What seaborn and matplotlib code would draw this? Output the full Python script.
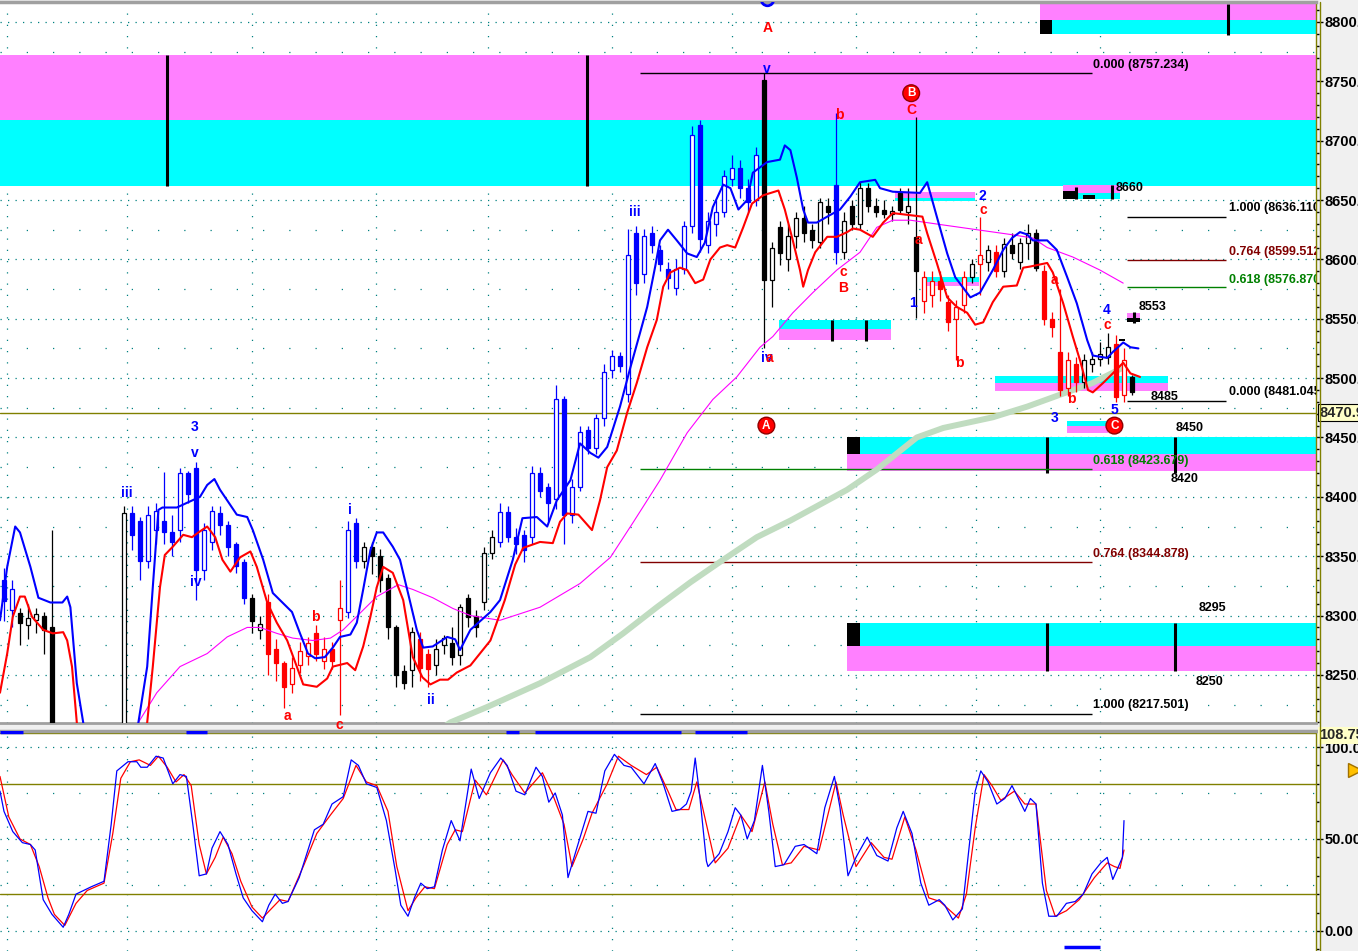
import matplotlib
matplotlib.use("Agg")
import matplotlib.pyplot as plt
import matplotlib.transforms as mtransforms
from matplotlib.lines import Line2D
from matplotlib.patches import Rectangle
from matplotlib.ticker import MultipleLocator
import numpy as np
import pandas as pd
import seaborn as sns

sns.set_theme(style="white")
plt.rcParams['font.family'] = ['Liberation Sans', 'DejaVu Sans']

# ---------------- price bars (one per bar index) ----------------
opens = [8330, 8305, 8302, 8292, 8296, 8300, 8290, 8150, 8160, 8150,
         8170, 8165, 8180, 8175, 8185, 8190, 8386, 8380, 8346, 8372,
         8380, 8370, 8372, 8420, 8424, 8338, 8362, 8386, 8376, 8360,
         8345, 8315, 8288, 8311, 8272, 8260, 8242, 8258, 8266, 8285,
         8262, 8272, 8296, 8303, 8378, 8346, 8358, 8350, 8332, 8290,
         8253, 8254, 8280, 8268, 8258, 8275, 8277, 8267, 8315, 8300,
         8311, 8353, 8362, 8387, 8366, 8368, 8366, 8420, 8408, 8398,
         8482, 8385, 8408, 8456, 8441, 8466, 8507, 8519, 8487, 8622,
         8588, 8622, 8608, 8592, 8576, 8592, 8628, 8713, 8612, 8630,
         8640, 8668, 8677, 8660, 8650, 8751, 8583, 8627, 8600, 8620,
         8635, 8625, 8615, 8645, 8663, 8606, 8645, 8630, 8660, 8645,
         8642, 8638, 8656, 8640, 8619, 8565, 8570, 8582, 8564, 8550,
         8562, 8585, 8596, 8598, 8606, 8590, 8612, 8598, 8614, 8622,
         8590, 8550, 8522, 8492, 8512, 8497, 8512, 8516, 8518, 8529,
         8486, 8501]
highs = [8340, 8330, 8306, 8310, 8306, 8303, 8372, 8170, 8175, 8180,
         8185, 8190, 8190, 8195, 8200, 8392, 8392, 8383, 8392, 8395,
         8421, 8385, 8424, 8422, 8429, 8378, 8392, 8392, 8380, 8362,
         8348, 8318, 8300, 8318, 8280, 8262, 8265, 8278, 8282, 8292,
         8282, 8278, 8330, 8380, 8382, 8362, 8362, 8356, 8335, 8292,
         8258, 8290, 8286, 8272, 8280, 8284, 8290, 8310, 8318, 8305,
         8358, 8372, 8395, 8392, 8374, 8372, 8426, 8425, 8412, 8494,
         8485, 8415, 8460, 8460, 8470, 8512, 8524, 8522, 8626, 8628,
         8626, 8628, 8612, 8598, 8600, 8632, 8712, 8717, 8640, 8650,
         8675, 8688, 8684, 8668, 8695, 8757, 8615, 8632, 8630, 8640,
         8645, 8630, 8652, 8652, 8723, 8640, 8650, 8665, 8664, 8652,
         8650, 8645, 8660, 8660, 8720, 8590, 8590, 8590, 8570, 8566,
         8590, 8600, 8636, 8612, 8612, 8618, 8622, 8618, 8630, 8626,
         8595, 8556, 8575, 8522, 8518, 8520, 8522, 8530, 8538, 8536,
         8525, 8503]
lows = [8295, 8290, 8275, 8280, 8285, 8268, 8140, 8130, 8140, 8140,
        8150, 8155, 8160, 8165, 8170, 8180, 8355, 8330, 8340, 8360,
        8360, 8350, 8362, 8395, 8313, 8330, 8355, 8368, 8350, 8336,
        8310, 8285, 8280, 8250, 8245, 8222, 8235, 8252, 8258, 8262,
        8255, 8255, 8216, 8298, 8340, 8340, 8335, 8320, 8280, 8240,
        8238, 8240, 8245, 8240, 8250, 8268, 8258, 8258, 8290, 8282,
        8305, 8348, 8358, 8362, 8352, 8345, 8360, 8400, 8380, 8390,
        8360, 8378, 8405, 8436, 8436, 8460, 8500, 8505, 8480, 8570,
        8580, 8605, 8590, 8575, 8570, 8588, 8622, 8606, 8605, 8620,
        8636, 8662, 8652, 8640, 8645, 8525, 8560, 8595, 8590, 8610,
        8615, 8610, 8610, 8630, 8596, 8600, 8625, 8625, 8640, 8636,
        8635, 8632, 8638, 8630, 8551, 8555, 8560, 8565, 8540, 8515,
        8555, 8580, 8570, 8590, 8585, 8585, 8600, 8592, 8600, 8590,
        8545, 8535, 8485, 8485, 8488, 8492, 8505, 8510, 8512, 8480,
        8480, 8486]
closes = [8312, 8322, 8294, 8298, 8301, 8288, 8150, 8160, 8150, 8170,
          8165, 8180, 8175, 8185, 8190, 8386, 8368, 8346, 8385, 8388,
          8370, 8362, 8420, 8402, 8338, 8372, 8388, 8376, 8358, 8342,
          8315, 8295, 8293, 8268, 8260, 8240, 8256, 8270, 8277, 8268,
          8272, 8262, 8306, 8372, 8346, 8358, 8350, 8330, 8290, 8250,
          8243, 8286, 8256, 8255, 8272, 8281, 8265, 8307, 8299, 8290,
          8353, 8366, 8387, 8366, 8360, 8355, 8420, 8405, 8395, 8482,
          8385, 8408, 8455, 8441, 8466, 8505, 8519, 8510, 8604, 8580,
          8620, 8612, 8596, 8584, 8592, 8628, 8705, 8617, 8632, 8640,
          8670, 8677, 8660, 8648, 8688, 8583, 8610, 8605, 8620, 8635,
          8622, 8616, 8648, 8640, 8606, 8632, 8630, 8660, 8645, 8640,
          8638, 8641, 8642, 8645, 8590, 8585, 8582, 8575, 8547, 8560,
          8585, 8596, 8604, 8608, 8590, 8613, 8605, 8614, 8622, 8593,
          8550, 8543, 8490, 8515, 8497, 8515, 8516, 8520, 8526, 8484,
          8515, 8488]
bar_colors = ("bb" "kkkkkkkkkkkkkk" "bbbbbbbbbbbbbbb" "kk" "rrrrrrrrrr" "bb"
              "kkkkkkk" "rr" "kkkkkkkk" "bbbbbbbbbbbbbbbbbbbbbbbbbbbbbbbbb"
              "kkkkkkkkk" "b" "kkkkkkkkkk" "rrrrrr" "k" "r" "k" "r" "kkkkk"
              "rrrrr" "kkkk" "rr" "k")

# ---------------- indicator lines (bar index, value) ----------------
upper_x = [-0.5, 0.4, 1.4, 2, 3.3, 4.3, 5.8, 7.3, 7.9, 8.3, 9.1, 9.9, 11, 15.5, 16.8, 17.9, 18.6, 19.3, 19.8, 21.6,
           24.5, 25.4, 26.3, 27, 27.9, 29.1, 30.4, 31.1, 32.4, 33.6, 34.8, 36, 37, 38, 38.9, 40.1, 41.1, 42, 43.3, 44.1,
           44.9, 45.8, 46.6, 47.4, 48.6, 49.5, 50.5, 51.6, 52.4, 53.6, 55.4, 56.4, 57, 58.3, 60.8, 62, 63.6, 64.8, 66.6, 67.9,
           69.1, 70.8, 72, 73.3, 74.3, 75.4, 77, 78.3, 79.5, 80.4, 81.4, 82, 83, 84.1, 85.4, 86.6, 87.6, 88.6, 89.9, 90.8,
           91.8, 92.9, 93.6, 95.4, 97, 97.6, 98.3, 99.1, 99.9, 100.5, 101.6, 102.9, 104.5, 105.8, 107, 108.9, 109.5, 111.1, 114.5, 115.4,
           116.6, 117.9, 118.9, 120.8, 122, 123.6, 124.9, 126, 127, 127.9, 128.6, 130.4, 131.6, 132.9, 134.1, 135.4, 136.1, 137.9, 138.6, 139.9,
           140.8, 141.8]
upper_y = [8296, 8341, 8375, 8370, 8341, 8315, 8311, 8311, 8316, 8307, 8243, 8210, 8120, 8120, 8210, 8257, 8324, 8389, 8391, 8391,
           8400, 8410, 8415, 8406, 8397, 8385, 8383, 8372, 8347, 8319, 8311, 8303, 8285, 8268, 8264, 8265, 8273, 8282, 8284, 8294,
           8322, 8355, 8370, 8370, 8358, 8347, 8319, 8288, 8273, 8274, 8282, 8280, 8271, 8288, 8303, 8313, 8347, 8382, 8383, 8375,
           8397, 8414, 8445, 8437, 8433, 8442, 8476, 8509, 8538, 8560, 8594, 8616, 8625, 8616, 8605, 8602, 8614, 8644, 8663, 8660,
           8642, 8650, 8673, 8682, 8684, 8696, 8692, 8669, 8642, 8631, 8631, 8636, 8642, 8653, 8665, 8667, 8660, 8657, 8656, 8665,
           8636, 8605, 8585, 8568, 8572, 8591, 8608, 8618, 8623, 8621, 8616, 8616, 8608, 8585, 8563, 8532, 8519, 8517, 8522, 8530,
           8526, 8525]
lower_x = [-0.5, 0.4, 1.1, 2, 2.6, 3.5, 4.9, 6.1, 7.4, 7.9, 8.5, 9.1, 10.5, 16.5, 17.9, 18.6, 19.5, 20.1, 21.1, 22.4,
           23.5, 24.3, 25.4, 26.4, 27.3, 28.3, 29.5, 30.8, 31.6, 32.9, 34.1, 35.4, 36.6, 37.4, 39.1, 40.4, 41.1, 42.9, 43.9, 44.9,
           45.8, 46.6, 47.4, 48.6, 49.9, 51.1, 52.3, 53.3, 54.5, 55.5, 56.6, 58.3, 60.8, 62.6, 63.9, 64.9, 67, 68.6, 69.5, 70.4,
           71.8, 73.5, 74.5, 75.4, 76.6, 77.9, 79.1, 80.4, 81.6, 82.4, 83.3, 84.5, 85.4, 86.4, 87.4, 88.3, 89.5, 90.4, 91.4, 92.4,
           93.5, 94.9, 96.8, 97.6, 98.6, 99.5, 99.9, 100.5, 101.4, 102.9, 104.1, 105.4, 106.1, 107, 108.6, 109.9, 111.1, 114.8, 115.4, 116.6,
           117.9, 119.1, 120.4, 121.4, 122.4, 123.6, 124.9, 126.6, 127.4, 128.3, 130.4, 131.1, 132.4, 133.6, 134.5, 135.5, 136.1, 137.4, 138.6, 139.9,
           140.8, 142]
lower_y = [8235, 8268, 8299, 8316, 8316, 8299, 8288, 8285, 8286, 8279, 8257, 8210, 8120, 8120, 8210, 8257, 8324, 8351, 8358, 8368,
           8366, 8370, 8375, 8366, 8347, 8337, 8349, 8354, 8341, 8311, 8294, 8279, 8257, 8242, 8240, 8247, 8257, 8260, 8254, 8274,
           8299, 8324, 8341, 8336, 8313, 8265, 8248, 8242, 8246, 8246, 8252, 8258, 8279, 8313, 8343, 8357, 8362, 8361, 8379, 8386,
           8385, 8372, 8397, 8425, 8439, 8471, 8496, 8526, 8549, 8577, 8589, 8593, 8591, 8580, 8583, 8600, 8610, 8612, 8610, 8627,
           8647, 8654, 8658, 8642, 8616, 8591, 8577, 8591, 8606, 8619, 8619, 8623, 8626, 8625, 8619, 8631, 8639, 8636, 8622, 8597,
           8568, 8560, 8555, 8545, 8547, 8564, 8577, 8578, 8593, 8594, 8597, 8589, 8563, 8535, 8515, 8490, 8488, 8496, 8504, 8513,
           8504, 8501]
ma_x = [15, 16.8, 19.1, 22, 25.4, 27.9, 30.4, 32, 34.1, 36.1, 38.6, 40.8, 42.4, 44.5, 46.6, 49.3, 51.1, 53.6, 56.1, 58.3,
        62, 67, 72, 75.8, 78.6, 82, 85.4, 88.6, 91.6, 94.5, 96.1, 98.6, 101.1, 104.1, 107, 109.1, 111.1, 113.3, 117.4, 121.6,
        125.8, 128.6, 130.4, 133.6, 137, 139.9]
ma_y = [8170, 8210, 8235, 8257, 8268, 8282, 8290, 8290, 8285, 8281, 8279, 8281, 8288, 8302, 8316, 8326, 8322, 8315, 8306, 8300,
        8296, 8307, 8327, 8349, 8378, 8414, 8454, 8482, 8501, 8526, 8535, 8555, 8572, 8591, 8606, 8627, 8633, 8633, 8629, 8625,
        8621, 8618, 8610, 8602, 8591, 8580]
long_x = [54.5, 55.8, 60.4, 67, 73.3, 77.4, 81.6, 85.8, 89.9, 94.1, 98.3, 105.4, 109.1, 114.1, 117.4, 123.6, 127.9, 132, 136.1, 139.9]
long_y = [8204, 8210, 8223, 8243, 8265, 8285, 8307, 8328, 8347, 8366, 8380, 8406, 8423, 8450, 8458, 8467, 8476, 8486, 8496, 8509]

# ---------------- oscillator ----------------
fast_x = [-0.5, 0, 1.1, 2.3, 3.3, 3.9, 4.9, 6, 7.4, 8.1, 9, 10.9, 12.5, 13.4, 14.1, 15.5, 16.6, 17.1, 17.9, 19,
          19.9, 21.1, 22, 22.8, 23.6, 24.4, 25.3, 26, 27, 28, 29, 29.9, 31, 32.3, 33.1, 33.9, 34.8, 35.5, 36.9, 38.8,
          39.9, 41, 42.4, 43.4, 44.3, 45.3, 46.6, 47.8, 48.9, 49.6, 50.5, 51.3, 52.1, 52.9, 53.8, 54.8, 55.9, 57, 58.4, 59.4,
          60.8, 62.1, 62.9, 64, 65.1, 66.5, 67.3, 68.1, 68.9, 69.8, 70.5, 71.6, 73, 74, 75.1, 76.3, 77.5, 78.4, 80, 81.4,
          82.4, 83.5, 84.5, 85.3, 85.9, 86.4, 87, 87.8, 88, 89.4, 90.5, 91.4, 92.1, 92.9, 93.8, 94.8, 95.6, 96.4, 97.5, 98.9,
          100, 101.6, 102.6, 103.8, 104.5, 105.5, 106.5, 107.9, 109.1, 110.5, 111.6, 112.4, 113.5, 114.6, 115.6, 116.9, 117.6, 118.6, 119.8, 120.5,
          121.4, 122.1, 123, 124.1, 125.1, 126, 126.8, 127.6, 128.3, 129, 129.8, 130.6, 131.6, 132.8, 133.9, 134.9, 136, 137.1, 137.9, 138.6,
          139.3, 139.8, 140]
fast_y = [76, 65, 54, 48, 47, 44, 17, 9, 2, 9, 20, 24, 27, 58, 87, 92, 92, 89, 89, 95,
          94, 80, 85, 84, 58, 30, 31, 45, 54, 47, 31, 18, 11, 5, 14, 20, 15, 16, 29, 55,
          58, 69, 73, 93, 90, 80, 78, 60, 33, 14, 8, 18, 26, 23, 24, 44, 60, 49, 88, 72,
          86, 94, 90, 76, 74, 89, 84, 70, 75, 63, 29, 45, 65, 64, 87, 96, 90, 89, 80, 91,
          80, 65, 66, 69, 76, 94, 72, 38, 35, 42, 54, 67, 63, 50, 60, 90, 65, 35, 36, 46,
          47, 42, 67, 84, 67, 30, 40, 51, 41, 38, 56, 65, 53, 26, 14, 17, 14, 6, 12, 40,
          76, 87, 81, 69, 72, 79, 72, 65, 72, 69, 26, 8, 8, 15, 16, 20, 31, 37, 40, 28,
          35, 40, 60]
slow_x = [-0.5, 0.6, 2, 3.3, 4.4, 5.5, 6.3, 7.6, 9, 10.4, 12.5, 13.6, 14.6, 15.8, 16.9, 18.3, 19.3, 20.4, 21.5, 22.5,
          23.4, 24.4, 25.3, 26.4, 27.4, 28.5, 29.6, 31, 32.3, 33.4, 34.5, 35.5, 37.5, 39.1, 40.8, 42.4, 44, 45.3, 46.6, 48,
          49.1, 50.5, 51.5, 52.6, 53.8, 55.4, 56.4, 57.3, 58.9, 60.3, 62.4, 63.5, 65.1, 67.3, 68.6, 70, 71, 72.4, 73.5, 75.4,
          76.8, 78.4, 80.3, 81.6, 83, 84, 85.6, 86.6, 87.8, 88.9, 90.5, 92.1, 93.5, 95.1, 96.1, 97.3, 98.4, 100, 101.9, 104,
          104.9, 106.5, 108.4, 110, 111, 112.6, 114, 115.6, 117, 119.3, 120.3, 121.4, 122.5, 123.5, 124.6, 126.3, 127.6, 129, 130.3, 131.4,
          132.8, 134.4, 136.3, 137.9, 138.8, 139.5, 140]
slow_y = [84, 62, 50, 47, 35, 18, 9, 3, 15, 22, 26, 53, 83, 92, 93, 90, 95, 89, 81, 85,
          79, 47, 31, 40, 51, 42, 27, 13, 7, 12, 17, 16, 36, 53, 63, 72, 90, 81, 79, 65,
          35, 11, 18, 24, 23, 47, 55, 54, 82, 74, 93, 85, 75, 86, 74, 58, 35, 50, 64, 80,
          95, 90, 85, 89, 76, 66, 66, 81, 58, 37, 45, 63, 54, 81, 58, 36, 37, 46, 44, 81,
          63, 35, 48, 40, 39, 62, 44, 18, 16, 7, 20, 56, 85, 79, 71, 76, 69, 69, 22, 8,
          11, 17, 29, 37, 35, 34, 44]
signal_top = [(-0.5, 2.4), (22.8, 25.4), (62.8, 64.4), (66.4, 84.6), (86.4, 92.9)]
signal_bottom = [(132.5, 137.0)]

# ---------------- zones / levels / labels ----------------
MAG, CYA = '#ff80ff', '#00ffff'
END = 164
zones = [(-0.5, END, 8717, 8772, MAG), (-0.5, END, 8662, 8717, CYA),
         (129.5, END, 8802, 8815, MAG), (129.5, END, 8790, 8802, CYA),
         (96.9, 110.9, 8541, 8549, CYA), (96.9, 110.9, 8532, 8541, MAG),
         (111.4, 121.4, 8652, 8657, MAG), (111.4, 121.4, 8649, 8652, CYA),
         (115.1, 121.9, 8581, 8585, CYA), (115.1, 121.9, 8577.5, 8581, MAG),
         (132.4, 139.5, 8656, 8663, MAG), (132.4, 139.5, 8651, 8656, CYA),
         (123.9, 145.5, 8496, 8502, CYA), (123.9, 145.5, 8489, 8496, MAG),
         (132.9, 138.0, 8460, 8464, CYA), (132.9, 138.0, 8454, 8460, MAG),
         (140.4, 142.0, 8551, 8555, MAG),
         (105.4, END, 8436, 8450, CYA), (105.4, END, 8422, 8436, MAG),
         (105.4, END, 8274, 8294, CYA), (105.4, END, 8253, 8274, MAG)]
black_blocks = [(129.5, 131.0, 8790, 8802), (132.4, 134.1, 8651, 8658), (134.9, 136.4, 8651, 8654),
                (140.4, 142.0, 8547, 8551), (105.4, 107.0, 8436, 8450), (105.4, 107.0, 8274, 8294),
                (139.4, 140.1, 8531, 8533)]
zone_ticks = [(20.4, 8662, 8772), (72.9, 8662, 8772), (153.0, 8789, 8815), (103.5, 8531, 8549),
              (107.75, 8531, 8549), (134.0, 8651, 8661), (138.5, 8651, 8663), (141.2, 8546, 8556),
              (130.4, 8420, 8450), (146.4, 8420, 8450), (130.4, 8253, 8294), (146.4, 8253, 8294)]
DKR, GRN = '#800000', '#008000'
fib_levels = [(8757.234, 79.5, 136.0, 'black'), (8423.679, 79.5, 136.0, GRN),
              (8344.878, 79.5, 136.0, DKR), (8217.501, 79.5, 136.0, 'black'),
              (8636.110, 140.4, 152.75, 'black'), (8599.512, 140.4, 152.75, DKR),
              (8576.870, 140.4, 152.75, GRN), (8481.045, 140.4, 152.75, 'black')]
level_texts = [(136.1, 8764, "0.000 (8757.234)", 'black'), (136.1, 8430, "0.618 (8423.679)", GRN),
               (136.1, 8352, "0.764 (8344.878)", DKR), (136.1, 8225, "1.000 (8217.501)", 'black'),
               (153.1, 8643, "1.000 (8636.110)", 'black'), (153.1, 8606, "0.764 (8599.512)", DKR),
               (153.1, 8583, "0.618 (8576.870)", GRN), (153.1, 8488, "0.000 (8481.045)", 'black'),
               (143.3, 8484, "8485", 'black'), (141.8, 8560, "8553", 'black'),
               (138.9, 8660, "8660", 'black'), (146.4, 8458, "8450", 'black'),
               (145.8, 8415, "8420", 'black'), (149.3, 8306, "8295", 'black'),
               (148.9, 8244, "8250", 'black')]
BLU, RED = '#0000ff', '#ff0000'
wave_labels = [(23.8, 8459, "3", BLU), (23.8, 8437, "v", BLU), (15.4, 8403, "iii", BLU),
               (24.0, 8328, "iv", BLU), (43.3, 8389, "i", BLU), (53.3, 8229, "ii", BLU),
               (78.9, 8640, "iii", BLU), (95.4, 8760, "v", BLU), (95.3, 8517, "iv", BLU),
               (113.6, 8563, "1", BLU), (122.3, 8653, "2", BLU), (131.3, 8466, "3", BLU),
               (137.8, 8557, "4", BLU), (138.8, 8473, "5", BLU),
               (95.4, 8795, "A", RED), (95.7, 8517, "a", RED), (35.4, 8215, "a", RED),
               (38.9, 8299, "b", RED), (41.9, 8208, "c", RED), (104.4, 8722, "b", RED),
               (104.9, 8589, "c", RED), (104.9, 8576, "B", RED), (113.4, 8726, "C", RED),
               (114.3, 8616, "a", RED), (119.4, 8513, "b", RED), (122.4, 8642, "c", RED),
               (131.3, 8583, "a", RED), (133.4, 8482, "b", RED), (137.9, 8545, "c", RED)]
circled = [(95.3, 8460, "A"), (113.4, 8740, "B"), (138.8, 8460, "C")]
session_lines = [0.4, 15.4, 31, 46.5, 60.5, 76, 91, 106.5, 121.5, 137]
last_price = 8470.9
price_ticks = list(range(8250, 8801, 50))
osc_ticks = [0, 50, 100]

# ---------------- figure ----------------
W, H = 1358, 951
fig = plt.figure(figsize=(W / 100, H / 100), dpi=100, facecolor='#f0f0f0')
ax = fig.add_axes([0, 1 - 723 / H, 1316 / W, 721 / H])
ax2 = fig.add_axes([0, 0, 1316 / W, 220 / H])
for a in (ax, ax2):
    a.set_facecolor('white')
    a.set_xlim(-0.5, END)
    a.set_xticks([])
    a.spines['left'].set_visible(False)
    a.spines['right'].set_color('#808000')
    a.spines['right'].set_linewidth(1.0)
    a.spines['top'].set_color('#a0a0a0')
    a.spines['top'].set_linewidth(2.5)
    a.spines['bottom'].set_color('#a0a0a0')
    a.spines['bottom'].set_linewidth(2)
ax2.spines['bottom'].set_visible(False)
ax.set_ylim(8209.5, 8816.8)
ax2.set_ylim(-10.9, 108.7)

TEAL = '#008080'
for lv in range(8225, 8816, 25):
    ax.axhline(lv, color=TEAL, lw=0.9, ls=(0, (1, 5)) if lv % 50 == 0 else (0, (1, 20)), zorder=0.5)
for lv in [0, 50, 100]:
    ax2.axhline(lv, color=TEAL, lw=0.9, ls=(0, (1, 5)), zorder=0.5)
for lv in [25, 75]:
    ax2.axhline(lv, color=TEAL, lw=0.9, ls=(0, (1, 20)), zorder=0.5)
for sx in session_lines:
    ax.axvline(sx, color=TEAL, lw=0.9, ls=(0, (1, 8)), zorder=0.5)
    ax2.axvline(sx, color=TEAL, lw=0.9, ls=(0, (1, 8)), zorder=0.5)

for x0, x1, y0, y1, c in zones:
    ax.add_patch(Rectangle((x0, y0), x1 - x0, y1 - y0, facecolor=c, edgecolor='none', zorder=1))
for x0, x1, y0, y1 in black_blocks:
    ax.add_patch(Rectangle((x0, y0), x1 - x0, y1 - y0, facecolor='black', edgecolor='none', zorder=2))
for tx, y0, y1 in zone_ticks:
    ax.vlines(tx, y0, y1, color='black', lw=2.2, zorder=2)
for lv, x0, x1, c in fib_levels:
    ax.hlines(lv, x0, x1, color=c, lw=1.0, zorder=2)
ax.axhline(last_price, color='#808000', lw=1.0, zorder=2)


def trace(axis, xs, ys, **kw):
    n = min(len(xs), len(ys))
    sns.lineplot(x=np.asarray(xs[:n], float), y=np.asarray(ys[:n], float), ax=axis,
                 sort=False, estimator=None, **kw)


trace(ax, long_x, long_y, color='#c0dcc0', linewidth=4.3, zorder=3, solid_capstyle='butt')

# candles
n = min(len(opens), len(highs), len(lows), len(closes), len(bar_colors))
df = pd.DataFrame({'o': opens[:n], 'h': highs[:n], 'l': lows[:n], 'c': closes[:n],
                   'col': list(bar_colors[:n])})
df['i'] = np.arange(n)
cmap = {'b': BLU, 'k': '#000000', 'r': RED}
for code, g in df.groupby('col'):
    colr = cmap[code]
    ax.vlines(g['i'], g['l'], g['h'], color=colr, lw=0.9, zorder=4)
    up = g[g['c'] >= g['o']]
    dn = g[g['c'] < g['o']]
    ax.bar(up['i'], np.maximum(up['c'] - up['o'], 1.0), bottom=up['o'], width=0.55,
           facecolor='white', edgecolor=colr, linewidth=0.9, zorder=5)
    ax.bar(dn['i'], np.maximum(dn['o'] - dn['c'], 1.0), bottom=dn['c'], width=0.55,
           facecolor=colr, edgecolor=colr, linewidth=0.9, zorder=5)

trace(ax, ma_x, ma_y, color='#ff00ff', linewidth=0.8, zorder=6)
trace(ax, upper_x, upper_y, color=BLU, linewidth=1.5, zorder=6)
trace(ax, lower_x, lower_y, color=RED, linewidth=1.5, zorder=6)

for x, y, s, c in wave_labels:
    ax.text(x, y, s, color=c, fontsize=10, fontweight='bold', ha='center', va='center', zorder=8)
for x, y, s in circled:
    ax.text(x, y, s, color='white', fontsize=8.5, fontweight='bold', ha='center', va='center', zorder=9,
            bbox=dict(boxstyle='circle,pad=0.2', fc=RED, ec='#900000', lw=1))
ax.plot([95.4], [8819], marker='o', ms=9, mfc='none', mec=BLU, mew=2, zorder=8)
for x, y, s, c in level_texts:
    ax.text(x, y, s, color=c, fontsize=9, fontweight='bold', ha='left', va='center', zorder=8, clip_on=True)

# price axis on the right
ax.yaxis.tick_right()
ax.set_yticks(price_ticks, labels=[f"{v:.2f}" for v in price_ticks], fontweight='bold')
ax.yaxis.set_minor_locator(MultipleLocator(10))
ax.tick_params(axis='y', which='major', length=5, width=1, color='black', pad=1, labelsize=10.5,
               labelcolor='black', right=True, left=False)
ax.tick_params(axis='y', which='minor', length=2, width=1, color='black', right=True, left=False)
trans = mtransforms.blended_transform_factory(ax.transAxes, ax.transData)
ax.text(1.0 + 3 / 1316, last_price, f"{last_price:.2f}", transform=trans, ha='left', va='center',
        fontsize=10.5, fontweight='bold', clip_on=False, zorder=10,
        bbox=dict(boxstyle='square,pad=0.1', fc='#ffffc8', ec='black', lw=0.8))

# oscillator
ax2.axhline(80, color='#808000', lw=1.0, zorder=1)
ax2.axhline(20, color='#808000', lw=1.0, zorder=1)
ax2.axhline(107.4, color='#808000', lw=1.0, zorder=1)
trace(ax2, fast_x, fast_y, color=BLU, linewidth=0.9, zorder=4)
trace(ax2, slow_x, slow_y, color=RED, linewidth=0.9, zorder=3)
for x0, x1 in signal_top:
    ax2.hlines(108.0, x0, x1, color=BLU, lw=2.5, zorder=5)
for x0, x1 in signal_bottom:
    ax2.hlines(-8.8, x0, x1, color=BLU, lw=2.5, zorder=5)
ax2.yaxis.tick_right()
ax2.set_yticks(osc_ticks, labels=[f"{v:.2f}" for v in osc_ticks], fontweight='bold')
ax2.yaxis.set_minor_locator(MultipleLocator(10))
ax2.tick_params(axis='y', which='major', length=5, width=1, color='black', pad=1, labelsize=10.5,
                labelcolor='black', right=True, left=False)
ax2.tick_params(axis='y', which='minor', length=2, width=1, color='black', right=True, left=False)
trans2 = mtransforms.blended_transform_factory(ax2.transAxes, ax2.transData)
ax2.text(1.0 + 3 / 1316, 106.3, "108.75", transform=trans2, ha='left', va='center', fontsize=10.5,
         fontweight='bold', clip_on=False, zorder=10,
         bbox=dict(boxstyle='square,pad=0.1', fc='#ffffc8', ec='none'))
ax2.plot([1355 / 1316], [87.5], marker='>', ms=10, color='#ffc000', mec='#a07000',
         transform=trans2, clip_on=False, zorder=10)

fig.add_artist(Line2D([1319.5 / W, 1319.5 / W], [0, 1 - 2 / H], color='#808000', lw=1.0,
                      transform=fig.transFigure))

fig.savefig('out.png', dpi=100, facecolor=fig.get_facecolor())
